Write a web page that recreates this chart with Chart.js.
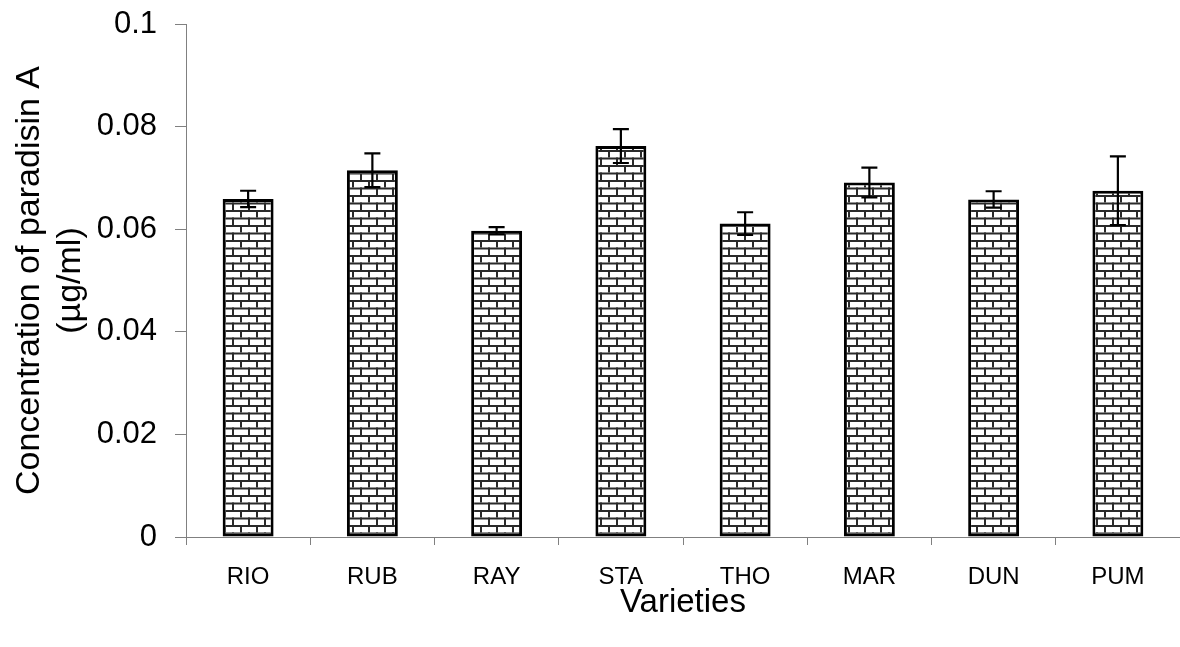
<!DOCTYPE html>
<html>
<head>
<meta charset="utf-8">
<script src="https://cdn.jsdelivr.net/npm/chart.js@4/dist/chart.umd.min.js"></script>
<style>
  html, body { margin: 0; padding: 0; background: #ffffff; overflow: hidden; }
  canvas { display: block; }
</style>
</head>
<body>
<canvas id="chart" width="1180" height="647"></canvas>
<script>
// Paradisin A concentration per grapefruit variety (mean and error)
const varieties = ['RIO', 'RUB', 'RAY', 'STA', 'THO', 'MAR', 'DUN', 'PUM'];
const meanConc = [0.0659, 0.0715, 0.0597, 0.0762, 0.0611, 0.0691, 0.0658, 0.0675];
const errConc = [0.0016, 0.0033, 0.0007, 0.0033, 0.0022, 0.0029, 0.0016, 0.0067];
const yTickLabels = ['0', '0.02', '0.04', '0.06', '0.08', '0.1'];

const FONT = "'Liberation Sans', Arial, sans-serif";
const AXIS_GREY = '#808080';

// Brick fill for the bars
function brickPattern() {
  const w = 16, h = 15;
  const c = document.createElement('canvas');
  c.width = w; c.height = h;
  const g = c.getContext('2d');
  g.fillStyle = '#ffffff';
  g.fillRect(0, 0, w, h);
  g.fillStyle = '#2a2a2a';
  // horizontal mortar lines
  g.fillRect(0, 0, w, 2);
  g.fillRect(0, 7.5, w, 2);
  // staggered vertical joints
  g.fillRect(0, 0, 2, 7.5);
  g.fillRect(8, 7.5, 2, 7.5);
  return document.getElementById('chart').getContext('2d').createPattern(c, 'repeat');
}

// Error bars drawn through the library's scales
const errorBars = {
  id: 'errorBars',
  afterDatasetsDraw(chart) {
    const ctx = chart.ctx;
    const x = chart.scales.x, y = chart.scales.y;
    ctx.save();
    ctx.strokeStyle = '#000000';
    ctx.lineWidth = 2.2;
    const cap = 8;
    meanConc.forEach((m, i) => {
      const px = x.getPixelForValue(i);
      const hi = y.getPixelForValue(m + errConc[i]);
      const lo = y.getPixelForValue(m - errConc[i]);
      ctx.beginPath();
      ctx.moveTo(px, hi); ctx.lineTo(px, lo);
      ctx.moveTo(px - cap, hi); ctx.lineTo(px + cap, hi);
      ctx.moveTo(px - cap, lo); ctx.lineTo(px + cap, lo);
      ctx.stroke();
    });
    ctx.restore();
  }
};

new Chart(document.getElementById('chart'), {
  type: 'bar',
  data: {
    labels: varieties,
    datasets: [{
      data: meanConc,
      backgroundColor: brickPattern(),
      borderColor: '#000000',
      borderWidth: 3,
      borderSkipped: false,
      categoryPercentage: 1,
      barPercentage: 0.41
    }]
  },
  options: {
    responsive: false,
    animation: false,
    events: [],
    layout: { padding: { top: 24, left: 0, right: 0, bottom: 0 } },
    plugins: { legend: { display: false }, tooltip: { enabled: false } },
    scales: {
      x: {
        offset: true,
        afterFit(scale) {
          scale.height = 110;
          scale.paddingLeft = 0;
          scale.paddingRight = 0;
        },
        grid: {
          display: true,
          drawOnChartArea: false,
          drawTicks: true,
          tickLength: 8,
          color: AXIS_GREY,
          lineWidth: 1,
          offset: true
        },
        border: { display: true, color: AXIS_GREY, width: 1 },
        ticks: {
          color: '#000000',
          font: { family: FONT, size: 24 },
          padding: 18,
          maxRotation: 0
        },
        title: {
          display: true,
          text: 'Varieties',
          color: '#000000',
          font: { family: FONT, size: 33 },
          padding: { top: 0, bottom: 24 }
        }
      },
      y: {
        min: 0,
        max: 0.1,
        afterFit(scale) {
          scale.width = 186;
          scale.paddingTop = 0;
          scale.paddingBottom = 0;
        },
        afterBuildTicks(scale) {
          scale.ticks = yTickLabels.map((t, i) => ({ value: i * 0.02 }));
        },
        grid: {
          display: true,
          drawOnChartArea: false,
          drawTicks: true,
          tickLength: 11,
          color: AXIS_GREY,
          lineWidth: 1
        },
        border: { display: true, color: AXIS_GREY, width: 1 },
        ticks: {
          color: '#000000',
          font: { family: FONT, size: 31 },
          padding: 18,
          callback: (v, i) => yTickLabels[i]
        },
        title: {
          display: true,
          text: ['Concentration of paradisin A', '(µg/ml)'],
          color: '#000000',
          font: { family: FONT, size: 34, lineHeight: 1.2 },
          padding: { top: 9, bottom: 0 }
        }
      }
    }
  },
  plugins: [errorBars]
});
</script>
</body>
</html>
